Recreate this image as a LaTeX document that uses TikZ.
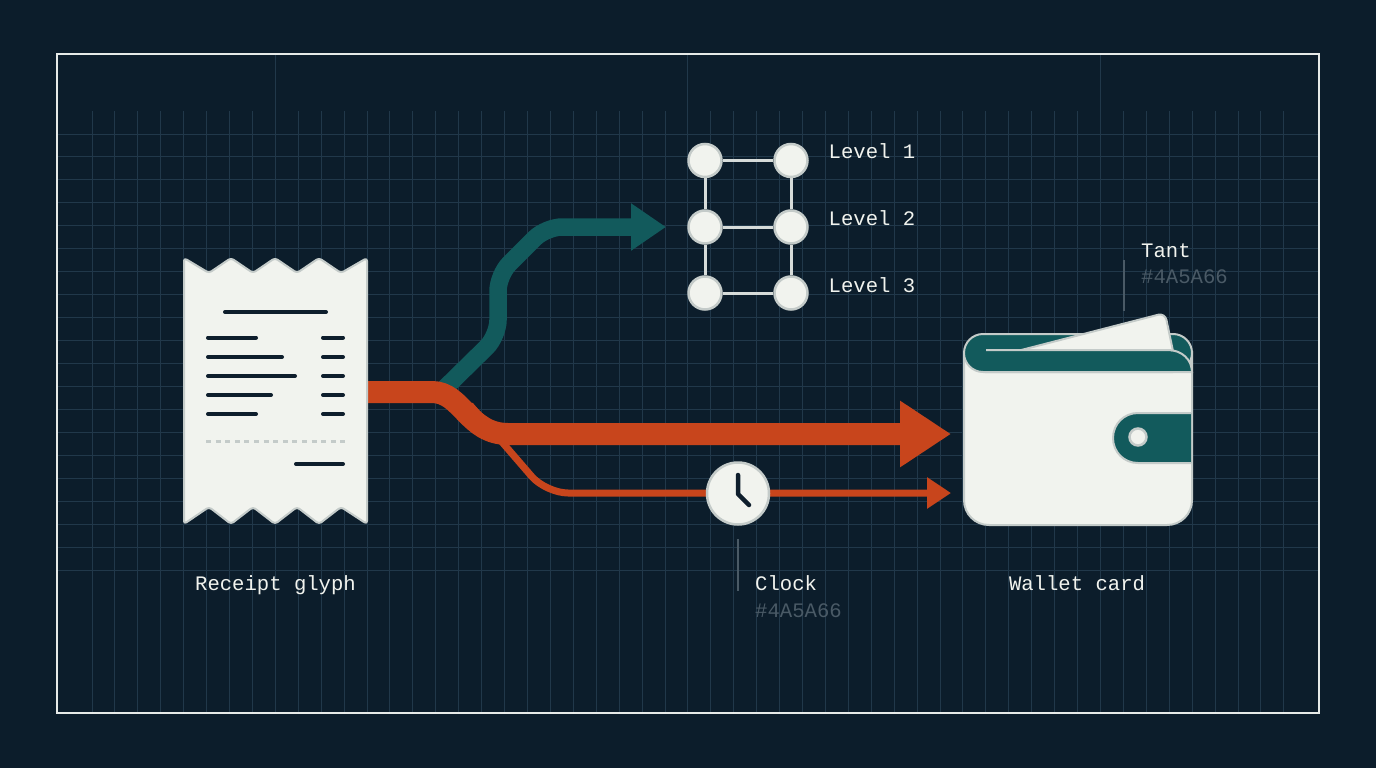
\documentclass[tikz,border=0pt]{standalone}
\usepackage{fontspec}
\setmonofont{Liberation Mono}
\usetikzlibrary{arrows.meta}
\definecolor{bgnavy}{HTML}{0C1D2B}
\definecolor{gridline}{HTML}{21384A}
\definecolor{framewhite}{HTML}{E6EAE8}
\definecolor{paper}{HTML}{F1F3EE}
\definecolor{paperedge}{HTML}{C4CBC9}
\definecolor{inkline}{HTML}{0E1E2C}
\definecolor{rustred}{HTML}{C8451C}
\definecolor{tealflow}{HTML}{125A5C}
\definecolor{leader}{HTML}{4A5A66}
\tikzset{
  gridrule/.style={draw=gridline,line width=1pt},
  receiptline/.style={draw=inkline,line width=4pt,line cap=round},
  paperfill/.style={fill=paper,draw=paperedge,line width=2pt},
  tealfill/.style={fill=tealflow,draw=paperedge,line width=2pt},
  levelnode/.style={circle,fill=paper,draw=paperedge,line width=2.5pt,minimum size=33pt,inner sep=0pt},
  leveledge/.style={draw=paperedge!70!white,line width=3pt},
  caption/.style={inner sep=0pt,text=paper,font=\ttfamily\fontsize{20.6}{24}\selectfont},
  hexcaption/.style={inner sep=0pt,text=leader,font=\ttfamily\fontsize{20.6}{24}\selectfont},
  leaderline/.style={draw=leader,line width=2.5pt},
}
\begin{document}
\begin{tikzpicture}[x=1pt,y=-1pt]
\useasboundingbox (0,0) rectangle (1376,768);
\fill[bgnavy] (0,0) rectangle (1376,768);
\foreach \i in {0,...,52} \draw[gridrule] ({92+22.92*\i},111)--({92+22.92*\i},712);
\foreach \i in {8,26,44} \draw[gridrule] ({92+22.92*\i},55)--({92+22.92*\i},111);
\foreach \i in {0,...,19} \draw[gridrule] (58,{134+22.98*\i})--(1318,{134+22.98*\i});
\draw[framewhite,line width=2.5pt] (57,54) rectangle (1319,713);

\coordinate (receiptout) at (368,392);
\coordinate (tealstart) at (445,388);
\coordinate (tealtip) at (666,227);
\coordinate (bigtip) at (951,434);
\coordinate (thinstart) at (470,405);
\coordinate (thintip) at (951,493);

\draw[tealflow,line width=17.5pt,rounded corners=16,-{Triangle[length=35pt,width=45pt]}]
  (tealstart)--(498,336)--(498,275)--(546,227)--(tealtip);
\draw[rustred,line width=7pt,rounded corners=22,-{Triangle[length=24pt,width=30pt]}]
  (thinstart)--(546,493)--(thintip);
\draw[rustred,line width=22pt,-{Triangle[length=51pt,width=63pt]}]
  (receiptout)--(432,392) .. controls (462,392) and (468,434) .. (508,434)--(bigtip);

\draw[paperfill,rounded corners=3,line join=round]
  (184,258)--(209,273)--(231,258)--(253,273)--(275,258)--(297,273)--(319,258)--(341,273)--(367,258)
  --(367,524)--(341,507)--(319,524)--(297,507)--(275,524)--(253,507)--(231,524)--(209,507)--(184,524)--cycle;
\draw[receiptline] (225,312)--(326,312);
\foreach \y/\e in {337.5/256,357/282,376/295,395/271,414/256} {
  \draw[receiptline] (208,\y)--(\e,\y);
  \draw[receiptline] (323,\y)--(343,\y);
}
\draw[paperedge,line width=3pt,dash pattern=on 5pt off 4.6pt] (206,441)--(345,441);
\draw[receiptline] (296,464)--(343,464);

\node[levelnode] (lvlAl) at (705,160.5) {};
\node[levelnode] (lvlAr) at (791,160.5) {};
\node[levelnode] (lvlBl) at (705,227) {};
\node[levelnode] (lvlBr) at (791,227) {};
\node[levelnode] (lvlCl) at (705,293) {};
\node[levelnode] (lvlCr) at (791,293) {};
\draw[leveledge] (lvlAl)--(lvlAr);
\draw[leveledge] (lvlBl)--(lvlBr);
\draw[leveledge] (lvlCl)--(lvlCr);
\draw[leveledge] (lvlAl)--(lvlBl);
\draw[leveledge] (lvlBl)--(lvlCl);
\draw[leveledge] (lvlAr)--(lvlBr);
\draw[leveledge] (lvlBr)--(lvlCr);
\node[caption,anchor=base west] (lvlone) at (828.5,158) {Level 1};
\node[caption,anchor=base west] (lvltwo) at (828.5,225.5) {Level 2};
\node[caption,anchor=base west] (lvlthree) at (828.5,292.5) {Level 3};

\draw[paperfill] (964,352)--(964,500) .. controls (964,514) and (975,525) .. (989,525)
  --(1167,525) .. controls (1181,525) and (1192,514) .. (1192,500)--(1192,352)--cycle;
\draw[tealfill,rounded corners=19] (964,334) rectangle (1192,372);
\draw[paperfill,rounded corners=7] (998,356)--(1165,313)--(1174,356)--cycle;
\fill[tealflow] (986,351)--(1168,351) .. controls (1182,351) and (1191,360) .. (1191,371)--(986,371)--cycle;
\draw[paperedge,line width=2pt] (986,350)--(1168,350) .. controls (1182,350) and (1192,360) .. (1192,372)--(985,372);
\draw[tealfill] (1191,413)--(1138,413) .. controls (1124,413) and (1113,424) .. (1113,438)
  .. controls (1113,452) and (1124,463) .. (1138,463)--(1191,463);
\draw[paperfill,line width=2.5pt] (1138,437) circle (8.5);

\node[circle,fill=paper,draw=paperedge,line width=2.5pt,minimum size=62pt,inner sep=0pt] (clockface) at (738,493.5) {};
\draw[inkline,line width=4.5pt,line cap=round,line join=round] (738,475)--(738,494)--(749,505);

\coordinate (clocktick) at (738,539);
\coordinate (clockend) at (738,591);
\draw[leaderline] (clocktick)--(clockend);
\coordinate (tanttick) at (1124,260);
\coordinate (tantend) at (1124,311);
\draw[leaderline] (tanttick)--(tantend);

\node[caption,anchor=base] (receiptcap) at (275.5,590.5) {Receipt glyph};
\node[caption,anchor=base] (walletcap) at (1077,590.5) {Wallet card};
\node[caption,anchor=base west] (clockcap) at (755,590.5) {Clock};
\node[hexcaption,anchor=base west] (clockhex) at (755,617) {\#4A5A66};
\node[caption,anchor=base west] (tantcap) at (1141,257) {Tant};
\node[hexcaption,anchor=base west] (tanthex) at (1141,283) {\#4A5A66};
\end{tikzpicture}
\end{document}
